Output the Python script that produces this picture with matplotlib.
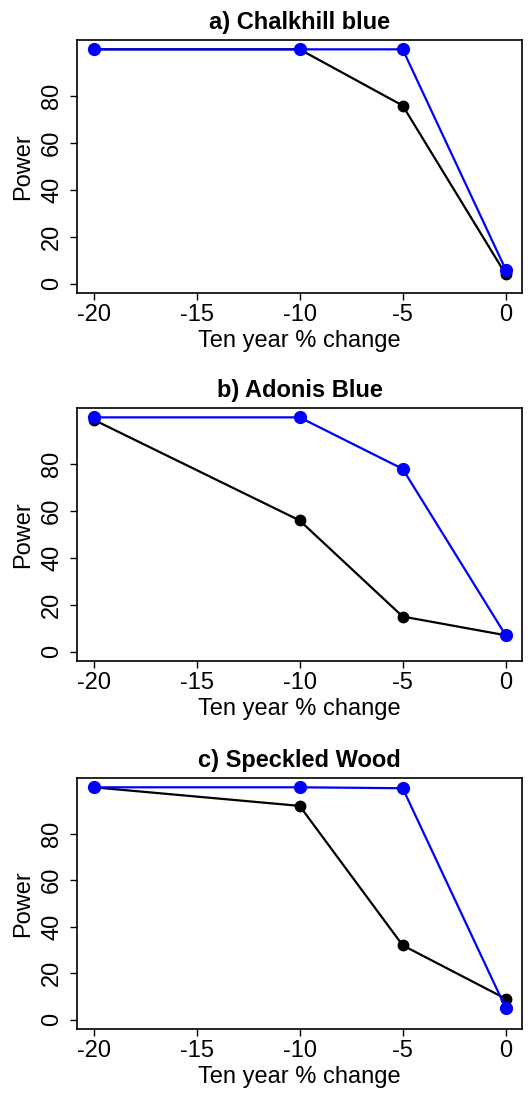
import numpy as np
import matplotlib
matplotlib.use('Agg')
import matplotlib.pyplot as plt

plt.rcParams['font.family'] = ['Liberation Sans', 'DejaVu Sans']

change = [-20, -10, -5, 0]

titles = ['a) Chalkhill blue', 'b) Adonis Blue', 'c) Speckled Wood']

# black series
power_black = [
    [100, 100, 76, 4],
    [99, 56, 15, 7],
    [100, 92, 32, 9],
]
# blue series
power_blue = [
    [100, 100, 100, 6],
    [100, 100, 78, 7],
    [100, 100, 99.6, 5],
]

yticks = [0, 20, 40, 60, 80]
xticks = [-20, -15, -10, -5, 0]

fig = plt.figure(figsize=(5.28, 10.95), dpi=100)

# axes boxes in figure fractions: left, bottom, width, height
boxes = [
    (0.146, 0.7324, 0.843, 0.2311),
    (0.146, 0.3963, 0.843, 0.2311),
    (0.146, 0.0603, 0.843, 0.2292),
]

fs = 17

for i in range(3):
    ax = fig.add_axes(boxes[i])
    ax.plot(change, power_black[i], color='black', lw=1.6, marker='o',
            ms=7.5, zorder=2)
    ax.plot(change, power_blue[i], color='#0000ff', lw=1.6, marker='o',
            ms=8.5, zorder=3)

    ax.set_xlim(-20.8, 0.8)
    ax.set_ylim(-4, 104)
    ax.set_xticks(xticks)
    ax.set_xticklabels([str(t) for t in xticks])
    ax.set_yticks(yticks)
    ax.set_yticklabels([str(t) for t in yticks], rotation=90, va='center')
    ax.tick_params(direction='out', length=5, width=1, labelsize=fs,
                   color='black')
    ax.tick_params(axis='x', pad=3)
    ax.tick_params(axis='y', pad=5)
    for s in ax.spines.values():
        s.set_linewidth(1.2)

    ax.set_title(titles[i], fontsize=fs, fontweight='bold', pad=8)
    ax.set_xlabel('Ten year % change', fontsize=fs, labelpad=3)
    ax.set_ylabel('Power', fontsize=fs, labelpad=5)

fig.savefig('out.png', dpi=100)
